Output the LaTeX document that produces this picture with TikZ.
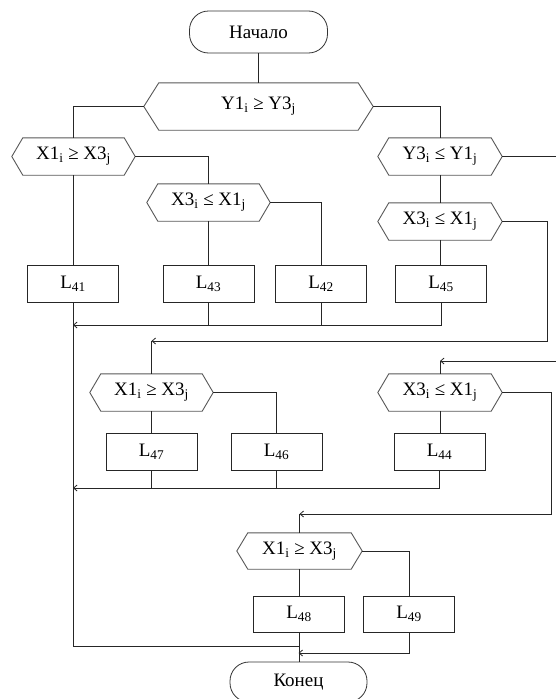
\documentclass[tikz,border=0pt]{standalone}
\usepackage{fontspec}
\setmainfont{Liberation Serif}
\usetikzlibrary{arrows.meta}
\newcommand\hexdraw[2]{\draw[hexline] ([xshift=#2]#1.north west) -- ([xshift=-#2]#1.north east) -- (#1.east) -- ([xshift=-#2]#1.south east) -- ([xshift=#2]#1.south west) -- (#1.west) -- cycle;}
\begin{document}
\begin{tikzpicture}[x=1pt,y=-1pt,
  every node/.style={font=\fontsize{19}{21}\selectfont},
  conn/.style={draw=black!85, line width=0.8pt},
  arr/.style={conn, -{Straight Barb[length=3.5pt,width=6pt]}},
  box/.style={draw=black!85, line width=0.8pt, minimum width=91pt, minimum height=37pt, inner sep=0pt},
  term/.style={draw=black!80, line width=0.8pt, rounded corners=19pt, minimum width=138pt, minimum height=42pt, inner sep=0pt},
  hexn/.style={minimum width=#1, minimum height=37pt, inner sep=0pt},
  hexline/.style={draw=black!65, line width=0.9pt}
]
\useasboundingbox (0,0) rectangle (556,699);
\fill[white] (0,0) rectangle (556,699);

% nodes
\node[term] (start) at (258.5,32) {Начало};
\node[hexn=229pt, minimum height=47pt] (c1) at (258.5,106.5) {Y1\textsubscript{i} ≥ Y3\textsubscript{j}};
\node[hexn=123pt] (c2) at (73.5,156.5) {X1\textsubscript{i} ≥ X3\textsubscript{j}};
\node[hexn=123pt] (c3) at (208.5,202.5) {X3\textsubscript{i} ≤ X1\textsubscript{j}};
\node[hexn=124pt] (c4) at (440,156.5) {Y3\textsubscript{i} ≤ Y1\textsubscript{j}};
\node[hexn=124pt] (c5) at (440,221.5) {X3\textsubscript{i} ≤ X1\textsubscript{j}};
\node[box] (L41) at (73,283.5) {L\textsubscript{41}};
\node[box] (L43) at (208.5,283.5) {L\textsubscript{43}};
\node[box] (L42) at (321,283.5) {L\textsubscript{42}};
\node[box] (L45) at (441,283.5) {L\textsubscript{45}};
\node[hexn=123pt] (c6) at (151.5,392.5) {X1\textsubscript{i} ≥ X3\textsubscript{j}};
\node[hexn=124pt] (c7) at (440,392.5) {X3\textsubscript{i} ≤ X1\textsubscript{j}};
\node[box] (L47) at (151.5,452) {L\textsubscript{47}};
\node[box] (L46) at (276.5,452) {L\textsubscript{46}};
\node[box] (L44) at (439.5,452) {L\textsubscript{44}};
\node[hexn=125pt, minimum height=36pt] (c8) at (299.5,551) {X1\textsubscript{i} ≥ X3\textsubscript{j}};
\node[box, minimum height=36pt] (L48) at (299,614) {L\textsubscript{48}};
\node[box, minimum height=36pt] (L49) at (409,614) {L\textsubscript{49}};
\node[term, minimum width=137pt, minimum height=40pt] (end) at (298.5,682) {Конец};

\hexdraw{c1}{15pt}
\hexdraw{c2}{11pt}
\hexdraw{c3}{11pt}
\hexdraw{c4}{11pt}
\hexdraw{c5}{11pt}
\hexdraw{c6}{11pt}
\hexdraw{c7}{11pt}
\hexdraw{c8}{11pt}

% helper coordinates
\coordinate (e1) at (556,156.5);
\coordinate (r1) at (547,341);
\coordinate (a2) at (c6.north |- r1);
\coordinate (rail1) at (73,325);
\coordinate (e2) at (556,361);
\coordinate (a3) at (c7.north |- e2);
\coordinate (r2) at (551,514);
\coordinate (a4) at (c8.north |- r2);
\coordinate (rail2) at (73,488);
\coordinate (jl) at (298.5,646);
\coordinate (j49) at (298.5,653);

% connectors
\draw[conn] (start.south) -- (c1.north);
\draw[conn] (c1.west) -| (c2.north);
\draw[conn] (c2.east) -| (c3.north);
\draw[conn] (c3.east) -| (L42.north);
\draw[conn] (c3.south) -- (c3.south |- L43.north);
\draw[conn] (c2.south) -- (c2.south |- L41.north);
\draw[conn] (c1.east) -| (c4.north);
\draw[conn] (c4.east) -- (e1);
\draw[conn] (c4.south) -- (c5.north);
\draw[conn] (c5.south) -- (c5.south |- L45.north);
\draw[arr] (c5.east) -| (r1) -- (a2);
\draw[conn] (a2) -- (c6.north);
\draw[arr] (L45.south) |- (rail1);
\draw[conn] (L42.south) -- (L42.south |- rail1);
\draw[conn] (L43.south) -- (L43.south |- rail1);
\draw[conn] (L41.south) |- (jl);

\draw[conn] (c6.south) -- (c6.south |- L47.north);
\draw[conn] (c6.east) -| (L46.north);
\draw[arr] (e2) -- (a3);
\draw[conn] (a3) -- (c7.north);
\draw[conn] (c7.south) -- (c7.south |- L44.north);
\draw[arr] (c7.east) -| (r2) -- (a4);
\draw[conn] (a4) -- (c8.north);
\draw[arr] (L44.south) |- (rail2);
\draw[conn] (L46.south) -- (L46.south |- rail2);
\draw[conn] (L47.south) -- (L47.south |- rail2);

\draw[conn] (c8.south) -- (c8.south |- L48.north);
\draw[conn] (c8.east) -| (L49.north);
\draw[conn] (L48.south) -- (L48.south |- end.north);
\draw[arr] (L49.south) |- (j49);
\end{tikzpicture}
\end{document}
